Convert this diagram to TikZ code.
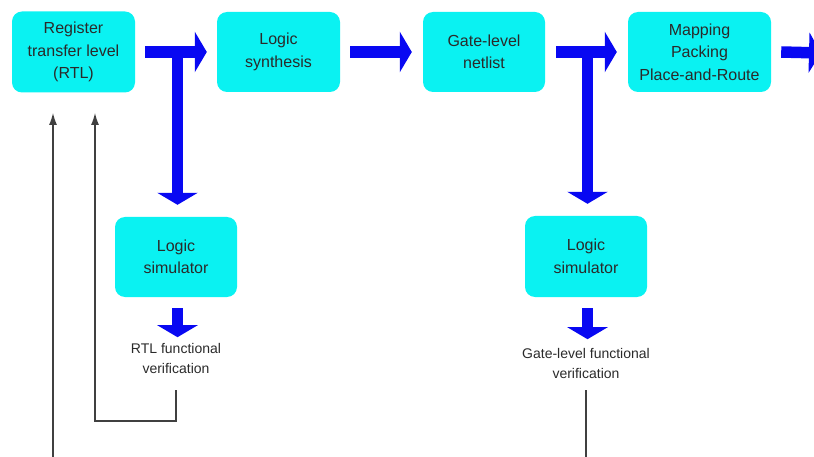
\documentclass[tikz,border=0pt]{standalone}
\usepackage{fontspec}
\setmainfont{Liberation Sans}
\usetikzlibrary{arrows.meta}
\definecolor{boxcyan}{HTML}{0AF2F2}
\definecolor{arrblue}{HTML}{0808F2}
\definecolor{txt}{HTML}{2A2A2A}
\definecolor{thinln}{HTML}{404040}
\tikzset{
  stagebox/.style={fill=boxcyan, draw=none, rounded corners=10pt, align=center,
    text=txt, font=\fontsize{16}{22.5}\selectfont, inner sep=0pt},
  bigarrow/.style={arrblue, line width=11.5pt,
    -{Triangle[width=40pt,length=12pt]}},
  noteText/.style={align=center, text=txt, font=\fontsize{14}{20}\selectfont, inner sep=0pt},
  fbline/.style={thinln, line width=1.1pt, -{Latex[width=8pt,length=12pt]}},
  plainline/.style={thinln, line width=1.1pt},
}
\begin{document}
\begin{tikzpicture}[x=1pt,y=-1pt]
\useasboundingbox (0,0) rectangle (814,457);
\clip (0,0) rectangle (814,457);
% stage boxes
\node[stagebox, minimum width=123pt, minimum height=81pt] (rtl) at (73.5,52) {Register\\transfer level\\(RTL)};
\node[stagebox, minimum width=123pt, minimum height=80pt] (syn) at (278.5,52) {Logic\\synthesis};
\node[stagebox, minimum width=122pt, minimum height=80pt] (gln) at (484,52) {Gate-level\\netlist};
\node[stagebox, minimum width=143pt, minimum height=80pt] (map) at (699.5,52) {Mapping\\Packing\\Place-and-Route};
\node[stagebox, minimum width=122pt, minimum height=80pt] (sim1) at (176,257) {Logic\\simulator};
\node[stagebox, minimum width=122pt, minimum height=81pt] (sim2) at (586,256.5) {Logic\\simulator};
% notes
\node[noteText] (ver1) at (176,358) {RTL functional\\verification};
\node[noteText] (ver2) at (586,363) {Gate-level functional\\verification};
% coordinates
\coordinate (off) at (821,53);
\coordinate (fb1top) at (95,113);
\coordinate (fb2top) at (53,113);
\coordinate (fb2bot) at (53,460);
\coordinate (gbot) at (586,460);
\coordinate (ver1out) at (176,390);
\coordinate (ver2out) at (586,390);
\coordinate (t1) at (177.5,47);
\coordinate (t2) at (587.5,47);
\coordinate (s1in) at ([yshift=12pt]sim1.north);
\coordinate (s2in) at ([yshift=12pt]sim2.north);
\coordinate (s1out) at ([yshift=-11pt]sim1.south);
\coordinate (s2out) at ([yshift=-11pt]sim2.south);
% thick arrows
\draw[bigarrow] ([xshift=10pt]rtl.east) -- ([xshift=-10pt]syn.west);
\draw[bigarrow] ([xshift=10pt]syn.east) -- ([xshift=-11pt]gln.west);
\draw[bigarrow] ([xshift=11pt]gln.east) -- ([xshift=-11pt]map.west);
\draw[bigarrow] ([xshift=10pt]map.east) -- (off);
\draw[bigarrow] (t1) -- (t1 |- s1in);
\draw[bigarrow] (t2) -- (t2 |- s2in);
\draw[bigarrow] (s1out -| t1) -- ++(0,29);
\draw[bigarrow] (s2out -| t2) -- ++(0,31);
% thin feedback lines
\draw[fbline] (ver1out) -- (176,421) -| (fb1top);
\draw[fbline] (fb2bot) -- (fb2top);
\draw[plainline] (ver2out) -- (gbot);
\end{tikzpicture}
\end{document}
